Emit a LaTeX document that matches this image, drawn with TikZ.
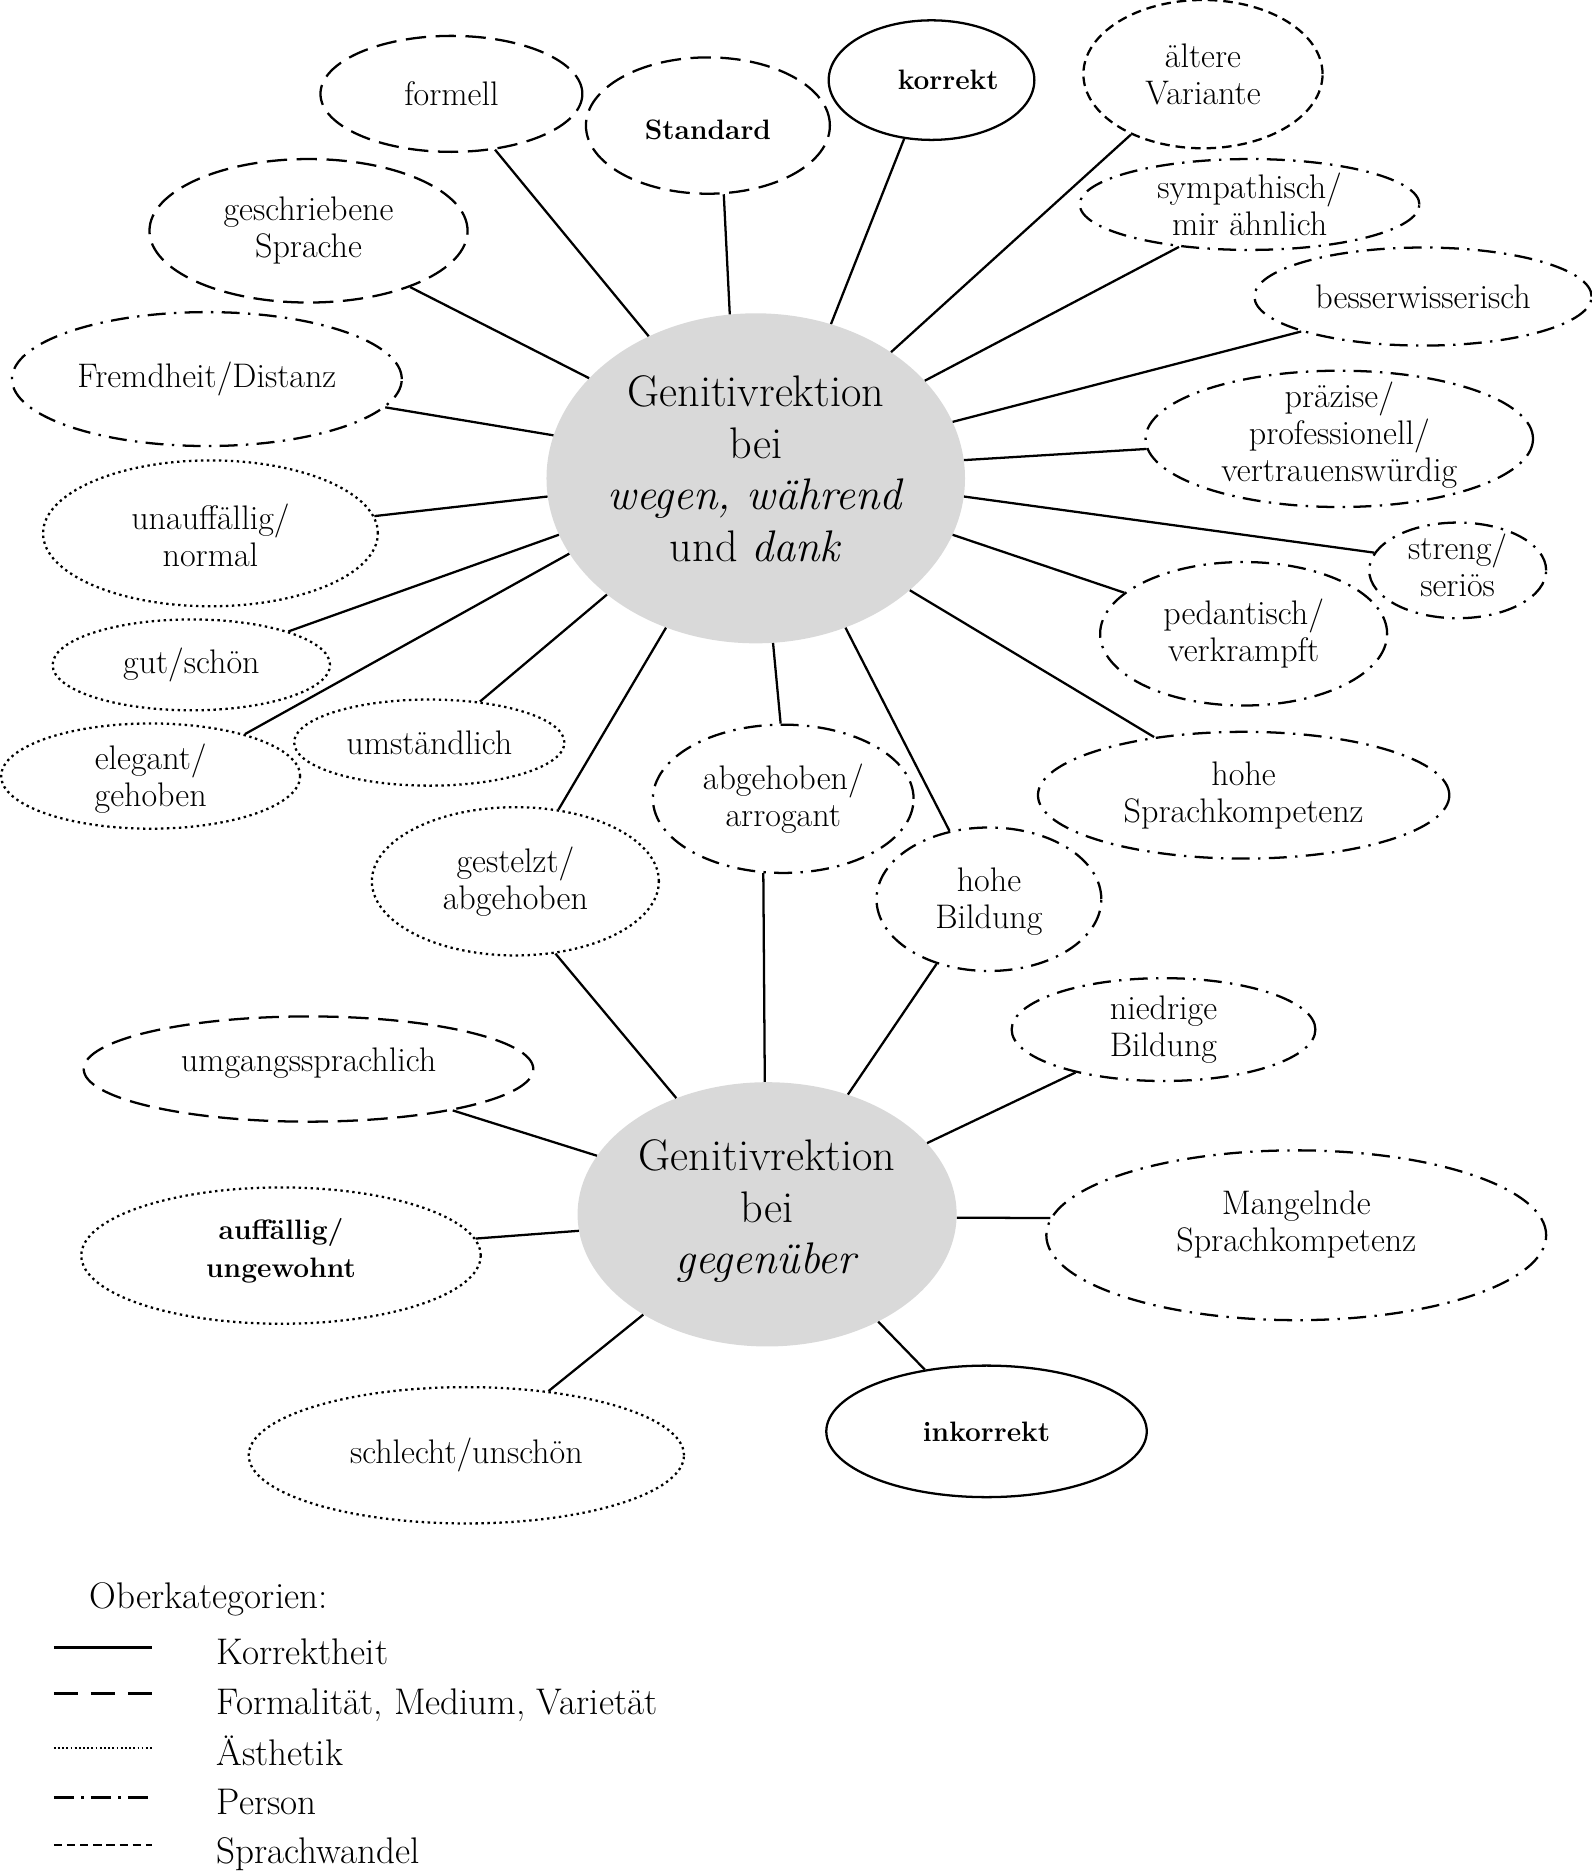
\documentclass[tikz,border=0pt]{standalone}
\usepackage{fontspec}
\usetikzlibrary{shapes.geometric,calc}
\tikzset{
  bub/.style={ellipse, draw, line width=1.9pt, inner sep=0pt},
  korr/.style={bub},
  form/.style={bub, dash pattern=on 17pt off 8pt},
  aest/.style={bub, dash pattern=on 2pt off 3pt},
  pers/.style={bub, dash pattern=on 15pt off 7pt on 2pt off 7pt},
  wand/.style={bub, dash pattern=on 8pt off 5pt},
  lbl/.style={align=center, font=\fontsize{28.5}{31}\selectfont, inner sep=0pt},
  conn/.style={line width=1.9pt},
  hub/.style={ellipse, fill=gray!30, inner sep=0pt},
  hubtxt/.style={align=center, font=\fontsize{37}{43}\selectfont, inner sep=0pt},
  legtxt/.style={font=\fontsize{31}{34}\selectfont, inner sep=0pt, anchor=base west}
}
\newcommand\mkbub[8]{%
  \node[#1, minimum width=#5pt, minimum height=#6pt] (#2) at (#3,#4) {};
  \node[lbl] (#2t) at ($(#2)+#7$) {#8};}
\newcommand\bsz{\fontsize{23.5}{28}\selectfont\bfseries}
\begin{document}
\begin{tikzpicture}[x=1pt,y=-1pt]
\useasboundingbox (0,0) rectangle (1331,1568);
% hubs
\node[hub, minimum width=350pt, minimum height=276pt] (c1) at (632,400) {};
\node[hubtxt] (c1t) at (632,392) {Genitivrektion\\bei\\\textit{wegen, während}\\und \textit{dank}};
\node[hub, minimum width=317pt, minimum height=221pt] (c2) at (641.5,1015.5) {};
\node[hubtxt] (c2t) at (641.5,1013) {Genitivrektion\\bei\\\textit{gegenüber}};
% satellites
\mkbub{form}{formell}{377.5}{78.5}{219}{97}{(0,0)}{formell}
\mkbub{form}{standard}{592}{105}{204}{114}{(0,4)}{\bsz Standard}
\mkbub{korr}{korrekt}{779}{67}{172}{100}{(14,0)}{\bsz korrekt}
\mkbub{wand}{aelter}{1006}{62}{200}{124}{(0,0)}{ältere\\Variante}
\mkbub{pers}{symp}{1045}{171}{284}{76}{(0,0)}{sympathisch/\\mir ähnlich}
\mkbub{pers}{besser}{1190}{248}{282}{82}{(0,0)}{besserwisserisch}
\mkbub{pers}{praez}{1120}{367}{324}{114}{(0,-3)}{präzise/\\professionell/\\vertrauenswürdig}
\mkbub{pers}{streng}{1219}{477}{148}{80}{(0,-4)}{streng/\\seriös}
\mkbub{pers}{pedant}{1040}{530}{240}{120}{(0,0)}{pedantisch/\\verkrampft}
\mkbub{pers}{hsk}{1040}{665}{344}{106}{(0,0)}{hohe\\Sprachkompetenz}
\mkbub{pers}{hbild}{827}{752}{188}{120}{(0,2)}{hohe\\Bildung}
\mkbub{pers}{arrog}{655}{668}{218}{124}{(0,0)}{abgehoben/\\arrogant}
\mkbub{aest}{gestelzt}{431}{737}{240}{124}{(0,0)}{gestelzt/\\abgehoben}
\mkbub{aest}{umst}{359}{621}{226}{72}{(0,0)}{umständlich}
\mkbub{aest}{eleg}{126}{649}{250}{88}{(0,2)}{elegant/\\gehoben}
\mkbub{aest}{gut}{160}{556}{232}{76}{(0,0)}{gut/schön}
\mkbub{aest}{unauf}{176}{446}{280}{122}{(0,2)}{unauffällig/\\normal}
\mkbub{pers}{fremd}{173}{317}{326}{112}{(0,0)}{Fremdheit/Distanz}
\mkbub{form}{geschr}{258}{193}{266}{120}{(0,0)}{geschriebene\\Sprache}
\mkbub{form}{umg}{258}{894}{376}{88}{(0,-5)}{umgangssprachlich}
\mkbub{aest}{auff}{235}{1050}{334}{114}{(0,-4)}{\bsz auffällig/\\\bsz ungewohnt}
\mkbub{aest}{schlecht}{390}{1217}{364}{114}{(0,0)}{schlecht/unschön}
\mkbub{korr}{inkorr}{825}{1197}{268}{110}{(0,0)}{\bsz inkorrekt}
\mkbub{pers}{mangel}{1084}{1033}{418}{142}{(0,-9)}{Mangelnde\\Sprachkompetenz}
\mkbub{pers}{niedrig}{973}{861}{254}{86}{(0,0)}{niedrige\\Bildung}
% connectors to c1
\draw[conn] (c1.127.4) -- (formell.-52);
\draw[conn] (c1.99.2) -- (standard.-77);
\draw[conn] (c1.64.4) -- (korrekt.-115);
\draw[conn] (c1.43.3) -- (aelter.-140);
\draw[conn] (c1.30.5) -- (symp.-149);
\draw[conn] (c1.16.6) -- (besser.-164.6);
\draw[conn] (c1.5.8) -- (praez.-177.5);
\draw[conn] (c1.-5) -- (streng.168);
\draw[conn] (c1.-16.7) -- (pedant.161.4);
\draw[conn] (c1.-36.9) -- (hsk.147.4);
\draw[conn] (c1.-59.8) -- (hbild.120.8);
\draw[conn] (c1.-84.2) -- (arrog.92.8);
\draw[conn] (c1.-121.3) -- (gestelzt.59.3);
\draw[conn] (c1.-142.1) -- (umst.39.2);
\draw[conn] (c1.-158.5) -- (eleg.24.6);
\draw[conn] (c1.-164.1) -- (gut.19);
\draw[conn] (c1.-175.4) -- (unauf.6.2);
\draw[conn] (c1.168.4) -- (fremd.-9.6);
\draw[conn] (c1.149.5) -- (geschr.-29);
% connectors to c2
\draw[conn] (c2.128.9) -- (gestelzt.-61.9);
\draw[conn] (c2.91.3) -- (arrog.-105.1);
\draw[conn] (c2.56.5) -- (hbild.-129);
\draw[conn] (c2.24.7) -- (niedrig.-154);
\draw[conn] (c2.-1.3) -- (mangel.176.7);
\draw[conn] (c2.-44.7) -- (inkorr.135.5);
\draw[conn] (c2.-141.6) -- (schlecht.38.7);
\draw[conn] (c2.-175.8) -- (auff.5.2);
\draw[conn] (c2.161.6) -- (umg.-16.3);
% legend
\node[legtxt] (legh) at (75,1345) {Oberkategorien:};
\coordinate (la1) at (45,1378); \coordinate (lb1) at (127,1378);
\coordinate (la2) at (45,1416); \coordinate (lb2) at (127,1416);
\coordinate (la3) at (45,1462); \coordinate (lb3) at (127,1462);
\coordinate (la4) at (45,1503); \coordinate (lb4) at (127,1503);
\coordinate (la5) at (45,1543); \coordinate (lb5) at (127,1543);
\draw[line width=2.3pt] (la1) -- (lb1);
\draw[line width=2.3pt, dash pattern=on 20pt off 11pt] (la2) -- (lb2);
\draw[line width=1.5pt, dash pattern=on 1.5pt off 2pt] (la3) -- (lb3);
\draw[line width=2.3pt, dash pattern=on 17pt off 6pt on 2pt off 6pt] (la4) -- (lb4);
\draw[line width=2pt, dash pattern=on 7pt off 4pt] (la5) -- (lb5);
\node[legtxt] (leg1) at (181,1392) {Korrektheit};
\node[legtxt] (leg2) at (181,1434) {Formalität, Medium, Varietät};
\node[legtxt] (leg3) at (181,1476) {Ästhetik};
\node[legtxt] (leg4) at (181,1517) {Person};
\node[legtxt] (leg5) at (181,1558) {Sprachwandel};
\end{tikzpicture}
\end{document}
